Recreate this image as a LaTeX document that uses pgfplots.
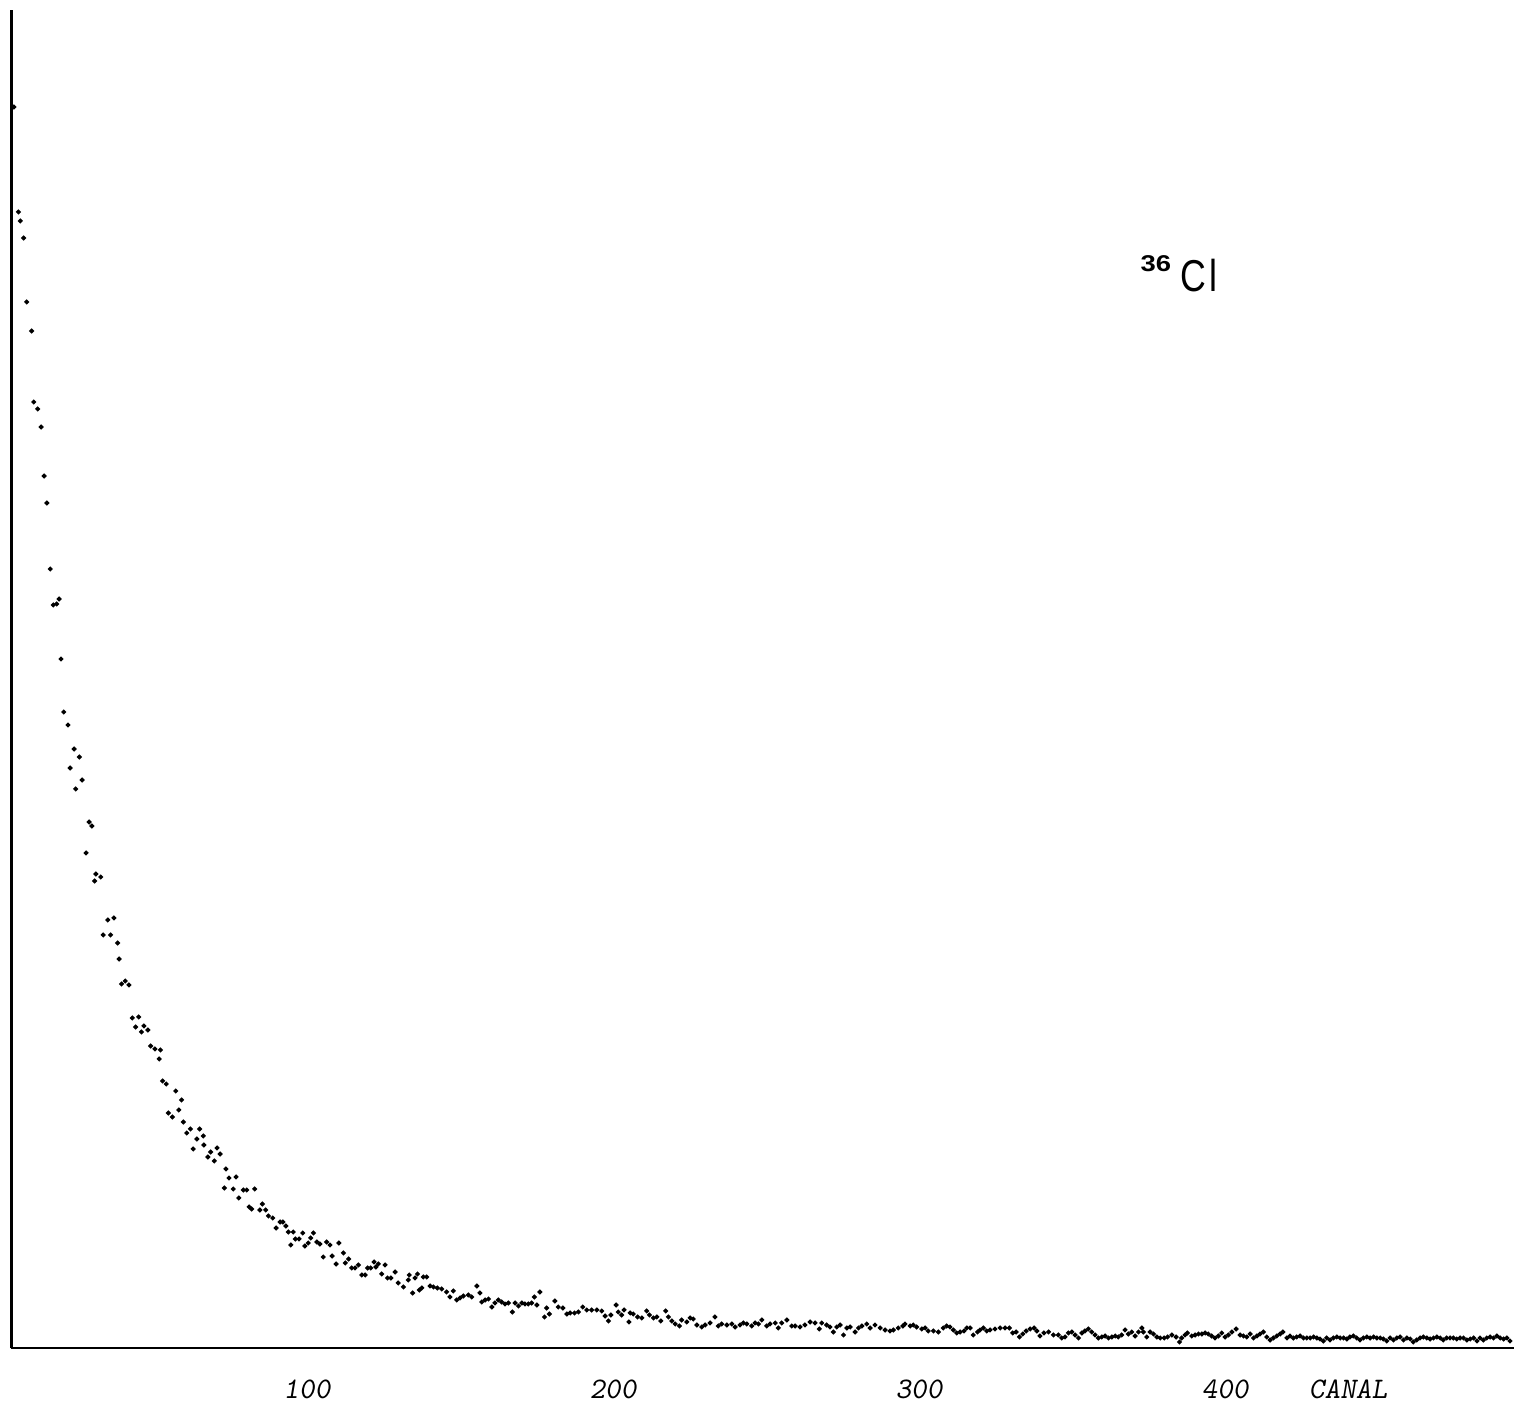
\documentclass[border=0pt]{standalone}
\usepackage{fontspec}
\usepackage{graphicx}
\usepackage{pgfplots}
\pgfplotsset{compat=1.18}
\newfontfamily\labsans{Liberation Sans}
\pgfplotstableread{
x y
4.2 1241
5.7 1136
6.3 1127
7.4 1110
8.4 1046
10.0 1017
10.7 946
12.0 939
13.1 921
14.1 872
15.0 845
16.1 779
17.1 743
18.2 744
19.0 749
19.6 689
20.5 636
21.9 623
22.6 580
23.9 599
24.4 559
25.6 591
26.5 568
27.8 495
28.8 526
29.7 522
30.6 467
31.0 474
32.6 471
33.4 413
34.9 428
35.8 413
36.9 430
38.1 405
38.6 389
39.4 364
40.6 367
41.8 363
42.9 330
44.0 321
45.0 331
45.9 316
46.7 322
48.0 318
48.9 302
50.3 299
51.7 289
52.1 298
52.8 267
54.0 264
54.7 235
56.0 231
57.1 257
58.1 238
59.0 248
59.6 226
60.7 215
61.9 219
62.8 199
64.0 209
64.9 219
66.1 212
66.3 203
67.6 191
68.5 196
69.7 187
70.6 200
71.6 194
73.0 160
73.5 179
74.5 170
75.9 159
76.8 171
77.7 150
79.2 158
80.3 158
81.1 141
81.9 139
82.9 159
84.6 138
85.4 144
86.5 138
87.4 132
88.8 130
89.9 120
91.2 126
92.1 126
93.1 122
93.9 116
94.7 103
95.5 116
96.2 109
97.4 109
98.6 115
99.3 102
100.4 105
101.2 110
102.1 115
103.2 106
104.2 104
105.3 91
106.4 106
107.5 103
108.2 92
109.5 84
110.4 105
111.9 95
112.5 85
113.6 89
114.6 80
115.7 80
116.8 83
117.9 73
119.0 73
119.8 80
120.8 80
121.9 86
122.5 81
123.3 84
124.4 74
125.5 83
126.3 70
127.4 70
128.8 76
129.8 65
131.5 61
133.1 68
133.4 73
134.5 55
135.3 70
136.1 74
136.7 58
137.5 60
138.0 71
139.1 71
140.2 62
141.3 61
142.6 60
144.0 59
145.6 56
146.7 51
147.8 57
148.9 48
150.0 50
151.1 52
152.7 53
153.8 51
155.5 62
156.5 55
157.1 46
158.2 48
159.3 49
160.4 41
161.4 45
162.5 48
163.6 46
164.7 44
165.8 45
167.1 36
168.0 45
169.1 42
170.2 45
171.2 44
172.3 44
173.4 45
174.3 51
175.1 43
176.1 56
177.6 31
178.3 40
179.2 34
181.0 47
182.1 41
183.6 40
184.9 34
186.0 35
187.4 35
188.7 36
190.1 41
191.4 38
193.0 38
194.7 38
196.3 37
197.4 32
198.5 27
199.3 33
201.0 43
201.7 36
202.8 33
203.6 38
205.2 26
205.6 35
206.6 34
208.0 31
209.4 30
211.0 37
211.9 33
213.2 30
214.3 31
215.6 27
217.2 37
218.1 31
219.2 27
220.3 24
221.7 22
222.4 28
224.1 26
225.2 30
226.2 29
227.4 23
229.0 21
230.1 23
231.7 25
233.3 31
234.4 22
235.5 24
237.2 23
238.8 24
239.9 21
241.5 23
242.6 25
243.7 24
245.3 22
246.4 25
247.5 24
248.6 28
250.2 22
251.3 24
253.0 25
254.0 20
255.1 25
256.8 28
258.4 22
259.5 22
261.1 21
262.7 23
264.4 26
266.0 25
267.4 19
268.2 25
269.8 23
270.9 21
272.0 16
273.1 21
274.2 23
275.3 13
276.4 20
277.5 21
279.1 16
280.2 20
281.3 22
282.9 24
284.0 20
285.6 23
287.3 20
288.9 18
290.5 17
291.6 18
293.2 20
294.7 22
295.4 24
297.1 22
298.1 23
299.2 21
300.9 19
302.0 20
303.0 17
304.7 17
306.3 16
307.9 20
309.0 22
310.1 21
311.2 18
312.3 15
313.4 16
314.7 17
315.6 20
316.7 20
317.7 13
319.1 16
319.9 18
321.0 20
322.1 17
323.2 18
324.8 19
326.5 20
328.1 20
329.5 20
330.6 15
331.7 16
332.8 11
333.9 14
335.0 17
336.3 19
337.6 20
338.5 17
339.5 12
340.8 15
342.3 16
343.9 13
345.5 13
346.6 10
347.7 11
348.8 15
349.9 16
351.0 13
352.1 10
353.2 15
354.2 17
355.3 19
356.4 16
357.5 13
358.6 10
359.7 11
360.8 12
361.9 10
363.0 11
364.1 12
365.1 11
366.2 13
367.3 18
368.4 14
369.5 16
370.6 12
371.7 16
372.8 20
373.3 16
374.4 11
375.5 16
376.6 14
377.7 11
378.8 10
380.1 10
381.2 11
382.6 13
384.0 11
385.1 6
385.8 10
386.9 13
387.7 15
389.1 12
390.2 13
391.3 14
392.4 14
393.5 15
394.5 14
395.6 12
396.7 10
397.8 12
398.9 15
400.0 11
401.1 13
402.2 16
403.6 19
404.9 13
406.0 12
407.1 11
408.2 14
409.3 10
410.4 12
411.4 14
412.5 16
413.6 11
414.7 8
415.8 10
416.9 12
418.0 14
418.9 16
420.2 10
421.2 12
422.3 10
423.4 11
424.5 12
425.6 10
426.7 10
427.8 10
428.9 11
430.0 10
431.0 9
432.1 7
433.2 10
434.3 8
435.4 10
436.5 11
437.6 10
438.7 10
439.8 9
440.8 11
441.9 12
443.0 10
444.1 8
445.2 10
446.3 11
447.4 10
448.5 11
449.6 10
450.7 10
451.7 9
452.8 7
453.9 10
455.0 8
456.1 10
457.2 11
458.3 8
459.4 10
460.5 9
461.5 6
462.6 8
463.7 10
464.8 11
465.9 10
467.0 9
468.1 10
469.2 11
470.3 10
471.3 8
472.4 10
473.5 10
474.6 10
475.7 9
476.8 10
477.9 10
479.0 8
480.1 9
481.2 10
482.3 7
483.3 10
484.4 8
485.5 10
486.6 11
487.7 10
488.8 12
489.9 10
491.0 9
492.1 10
493.1 7
}\spectrum
\begin{document}
\begin{tikzpicture}
\useasboundingbox (0,0) rectangle (151.4mm,140.4mm);
\begin{axis}[
  at={(1.15mm,5.6mm)}, anchor=south west,
  scale only axis, width=150.25mm, height=133.8mm,
  xmin=3.43, xmax=494.4, ymin=0, ymax=1338,
  axis x line=bottom, axis y line=left,
  axis line style={-, line width=0.8pt, black},
  xtick={100,200,300,400}, xticklabels={100,200,300,400},
  ytick=\empty,
  major tick length=0pt,
  xticklabel style={font=\fontsize{8.5}{10}\selectfont\ttfamily\slshape, anchor=center, yshift=-4.1mm},
  clip=false,
]
\addplot[only marks, mark=*, mark size=0.17mm, black] table {\spectrum};
\node[font=\fontsize{8.5}{10}\selectfont\ttfamily\slshape, anchor=center, yshift=-4.1mm] at (axis cs:440.2,0) {CANAL};
\end{axis}
\node[anchor=base west, inner sep=0pt, font=\labsans\fontsize{12.7}{14}\selectfont] at (118.0mm,111.2mm) {\scalebox{0.8}[1]{C\kern0.08em l}};
\node[anchor=base west, inner sep=0pt, font=\labsans\bfseries\fontsize{6.5}{8}\selectfont] at (114.0mm,113.2mm) {\scalebox{1.2}[1]{36}};
\end{tikzpicture}
\end{document}
